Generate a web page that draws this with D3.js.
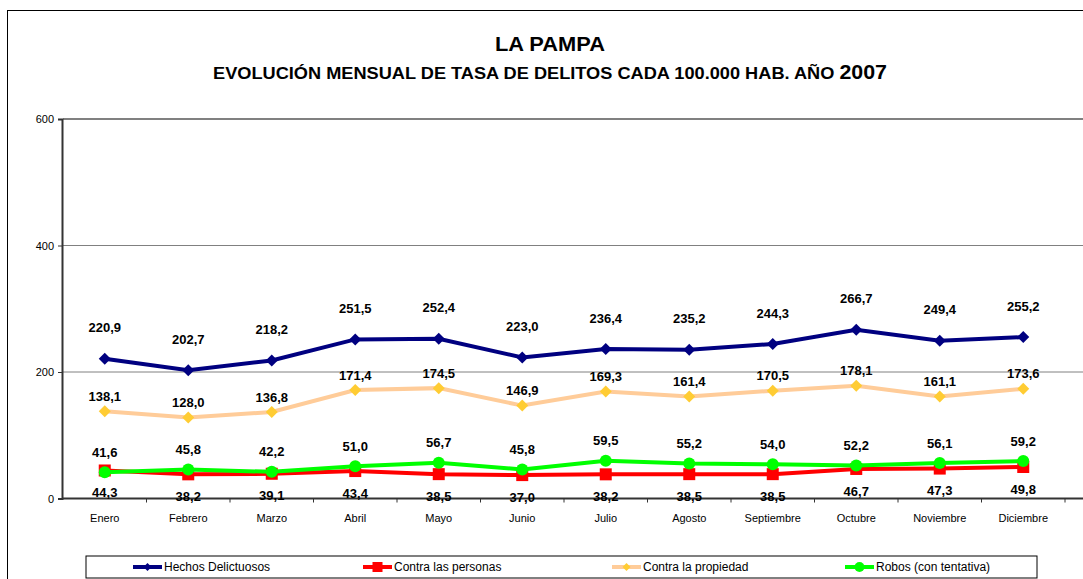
<!DOCTYPE html>
<html>
<head>
<meta charset="utf-8">
<script src="https://cdn.jsdelivr.net/npm/d3@7"></script>
<style>
  body { margin: 0; background: #fff; }
  svg { display: block; font-family: "Liberation Sans", Arial, sans-serif; }
</style>
</head>
<body>
<script>
// chart data
const months = ["Enero", "Febrero", "Marzo", "Abril", "Mayo", "Junio", "Julio",
  "Agosto", "Septiembre", "Octubre", "Noviembre", "Diciembre"];
const hechos = [220.9, 202.7, 218.2, 251.5, 252.4, 223.0, 236.4, 235.2, 244.3, 266.7, 249.4, 255.2];
const personas = [44.3, 38.2, 39.1, 43.4, 38.5, 37.0, 38.2, 38.5, 38.5, 46.7, 47.3, 49.8];
const propiedad = [138.1, 128.0, 136.8, 171.4, 174.5, 146.9, 169.3, 161.4, 170.5, 178.1, 161.1, 173.6];
const robos = [41.6, 45.8, 42.2, 51.0, 56.7, 45.8, 59.5, 55.2, 54.0, 52.2, 56.1, 59.2];
const yTicks = [0, 200, 400, 600];

const series = [
  { name: "Hechos Delictuosos", values: hechos, line: "#000080", marker: "#000080", shape: "diamond", labelDy: -31 },
  { name: "Contra la propiedad", values: propiedad, line: "#FFCC99", marker: "#FFCC33", shape: "diamond", labelDy: -15 },
  { name: "Contra las personas", values: personas, line: "#FF0000", marker: "#FF0000", shape: "square", labelDy: 22 },
  { name: "Robos (con tentativa)", values: robos, line: "#00FF00", marker: "#00FF00", shape: "circle", labelDy: -20 }
];
const legendOrder = ["Hechos Delictuosos", "Contra las personas", "Contra la propiedad", "Robos (con tentativa)"];

const W = 1083, H = 579;
const svg = d3.select("body").append("svg").attr("width", W).attr("height", H);

// outer chart border
svg.append("rect").attr("x", 7.5).attr("y", 10.5).attr("width", W + 10).attr("height", H + 10)
  .attr("fill", "#fff").attr("stroke", "#000").attr("stroke-width", 1);

// titles (original font is narrow, so squeeze to the measured width)
svg.append("text").attr("x", 550).attr("y", 51).attr("text-anchor", "middle")
  .attr("font-size", 20).attr("font-weight", "bold")
  .attr("textLength", 110).attr("lengthAdjust", "spacingAndGlyphs").text("LA PAMPA");
const sub = svg.append("text").attr("x", 550).attr("y", 79).attr("text-anchor", "middle")
  .attr("font-weight", "bold").attr("font-size", 17)
  .attr("textLength", 674).attr("lengthAdjust", "spacingAndGlyphs");
sub.append("tspan").text("EVOLUCIÓN MENSUAL DE TASA DE DELITOS CADA 100.000 HAB. AÑO ");
sub.append("tspan").attr("font-size", 20).text("2007");

const x = d3.scaleBand().domain(months).range([63, 1065]);
const y = d3.scaleLinear().domain([0, 600]).range([498.5, 119]);
const cx = m => x(m) + x.bandwidth() / 2;

// gridlines
svg.append("g").selectAll("line").data(yTicks.filter(d => d > 0)).join("line")
  .attr("x1", 63).attr("x2", W).attr("y1", d => y(d)).attr("y2", d => y(d))
  .attr("stroke", "#808080").attr("stroke-width", d => d === 600 ? 2 : 1);

// y axis
const yAxis = svg.append("g").attr("transform", "translate(62,0)")
  .call(d3.axisLeft(y).tickValues(yTicks).tickSize(4).tickPadding(4).tickFormat(d3.format("d")));
yAxis.select(".domain").attr("stroke", "#333").attr("stroke-width", 2);
yAxis.selectAll(".tick line").attr("stroke", "#333");
yAxis.selectAll("text").attr("font-size", 11).attr("font-family", "Liberation Sans, Arial, sans-serif").attr("fill", "#000");

// x axis
const xAxisG = svg.append("g").attr("transform", `translate(0,${y(0)})`);
xAxisG.append("line").attr("x1", 62).attr("x2", W).attr("stroke", "#333").attr("stroke-width", 2);
xAxisG.selectAll("line.tk").data(months).join("line").attr("class", "tk")
  .attr("x1", d => x(d) + x.bandwidth()).attr("x2", d => x(d) + x.bandwidth())
  .attr("y1", 0).attr("y2", 4).attr("stroke", "#333");
xAxisG.selectAll("text").data(months).join("text")
  .attr("x", d => cx(d)).attr("y", 23).attr("text-anchor", "middle")
  .attr("font-size", 11).text(d => d);

const line = d3.line().x((d, i) => cx(months[i])).y(d => y(d));

function drawMarker(g, shape, color, px, py, s) {
  if (shape === "diamond") {
    g.append("path").attr("d", `M${px},${py - s}L${px + s},${py}L${px},${py + s}L${px - s},${py}Z`).attr("fill", color);
  } else if (shape === "square") {
    g.append("rect").attr("x", px - s).attr("y", py - s).attr("width", 2 * s).attr("height", 2 * s).attr("fill", color);
  } else {
    g.append("circle").attr("cx", px).attr("cy", py).attr("r", s).attr("fill", color);
  }
}

const fmt = v => v.toFixed(1).replace(".", ",");

series.forEach(s => {
  const g = svg.append("g");
  g.append("path").datum(s.values).attr("d", line).attr("fill", "none")
    .attr("stroke", s.line).attr("stroke-width", 4);
  s.values.forEach((v, i) => drawMarker(g, s.shape, s.marker, cx(months[i]), y(v), 6));
});
// data labels on top
series.forEach(s => {
  svg.append("g").selectAll("text").data(s.values).join("text")
    .attr("x", (d, i) => cx(months[i])).attr("y", d => y(d) + s.labelDy)
    .attr("dy", "0.35em").attr("text-anchor", "middle")
    .attr("font-size", 13).attr("font-weight", "bold").text(fmt);
});

// legend
const legend = svg.append("g");
legend.append("rect").attr("x", 86).attr("y", 556).attr("width", 951).attr("height", 22)
  .attr("fill", "#fff").attr("stroke", "#000");
const legendX = [133, 363, 612, 845];
legendOrder.forEach((name, i) => {
  const s = series.find(d => d.name === name);
  const lx = legendX[i], ly = 567;
  legend.append("line").attr("x1", lx).attr("x2", lx + 29).attr("y1", ly).attr("y2", ly)
    .attr("stroke", s.line).attr("stroke-width", 4);
  drawMarker(legend, s.shape, s.marker, lx + 14.5, ly, s.shape === "diamond" ? 4 : 5);
  legend.append("text").attr("x", lx + 31).attr("y", ly).attr("dy", "0.35em")
    .attr("font-size", 12).text(name);
});
</script>
</body>
</html>
